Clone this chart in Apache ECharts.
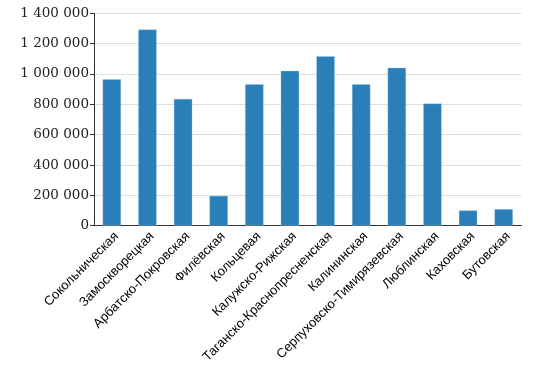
<!DOCTYPE html>
<html>
<head>
<meta charset="utf-8">
<script src="https://cdn.jsdelivr.net/npm/echarts@6/dist/echarts.min.js"></script>
<style>
html,body{margin:0;padding:0;background:#fff;}
#chart{width:552px;height:372px;}
</style>
</head>
<body>
<div id="chart"></div>
<script>
const categories = ["Сокольническая","Замоскворецкая","Арбатско-Покровская","Филёвская","Кольцевая","Калужско-Рижская","Таганско-Краснопресненская","Калининская","Серпуховско-Тимирязевская","Люблинская","Каховская","Бутовская"];
const values = [965000, 1293000, 836000, 197000, 933000, 1021000, 1118000, 933000, 1041000, 806000, 101000, 110000];
const yMin = 0, yMax = 1400000, yStep = 200000;

function fmt(v){ return String(v).replace(/\B(?=(\d{3})+(?!\d))/g, ' '); }

const chart = echarts.init(document.getElementById('chart'), null, {renderer:'canvas'});
chart.setOption({
  animation:false,
  backgroundColor:'#ffffff',
  grid:{left:94, right:30.5, top:13.3, bottom:146.3, containLabel:false},
  xAxis:{
    type:'category',
    data:categories,
    axisLine:{show:true, lineStyle:{color:'#333333', width:1}},
    axisTick:{show:false},
    axisLabel:{rotate:45, margin:4, verticalAlign:'top', fontFamily:'"Liberation Sans", Arial, sans-serif', fontSize:13, color:'#000000', interval:0}
  },
  yAxis:{
    type:'value',
    min:yMin, max:yMax, interval:yStep,
    axisLine:{show:true, lineStyle:{color:'#333333', width:1}},
    axisTick:{show:true, length:4, lineStyle:{color:'#333333'}},
    splitLine:{show:true, lineStyle:{color:'#dddddd', width:1}},
    axisLabel:{margin:5, fontFamily:'"DejaVu Serif", serif', fontSize:13.5, color:'#222222', formatter:fmt}
  },
  series:[{
    type:'bar',
    data:values,
    barWidth:'52%',
    itemStyle:{color:'#2a7fb8', borderColor:'rgba(160,200,230,0.6)', borderWidth:0.6}
  }]
});
</script>
</body>
</html>
